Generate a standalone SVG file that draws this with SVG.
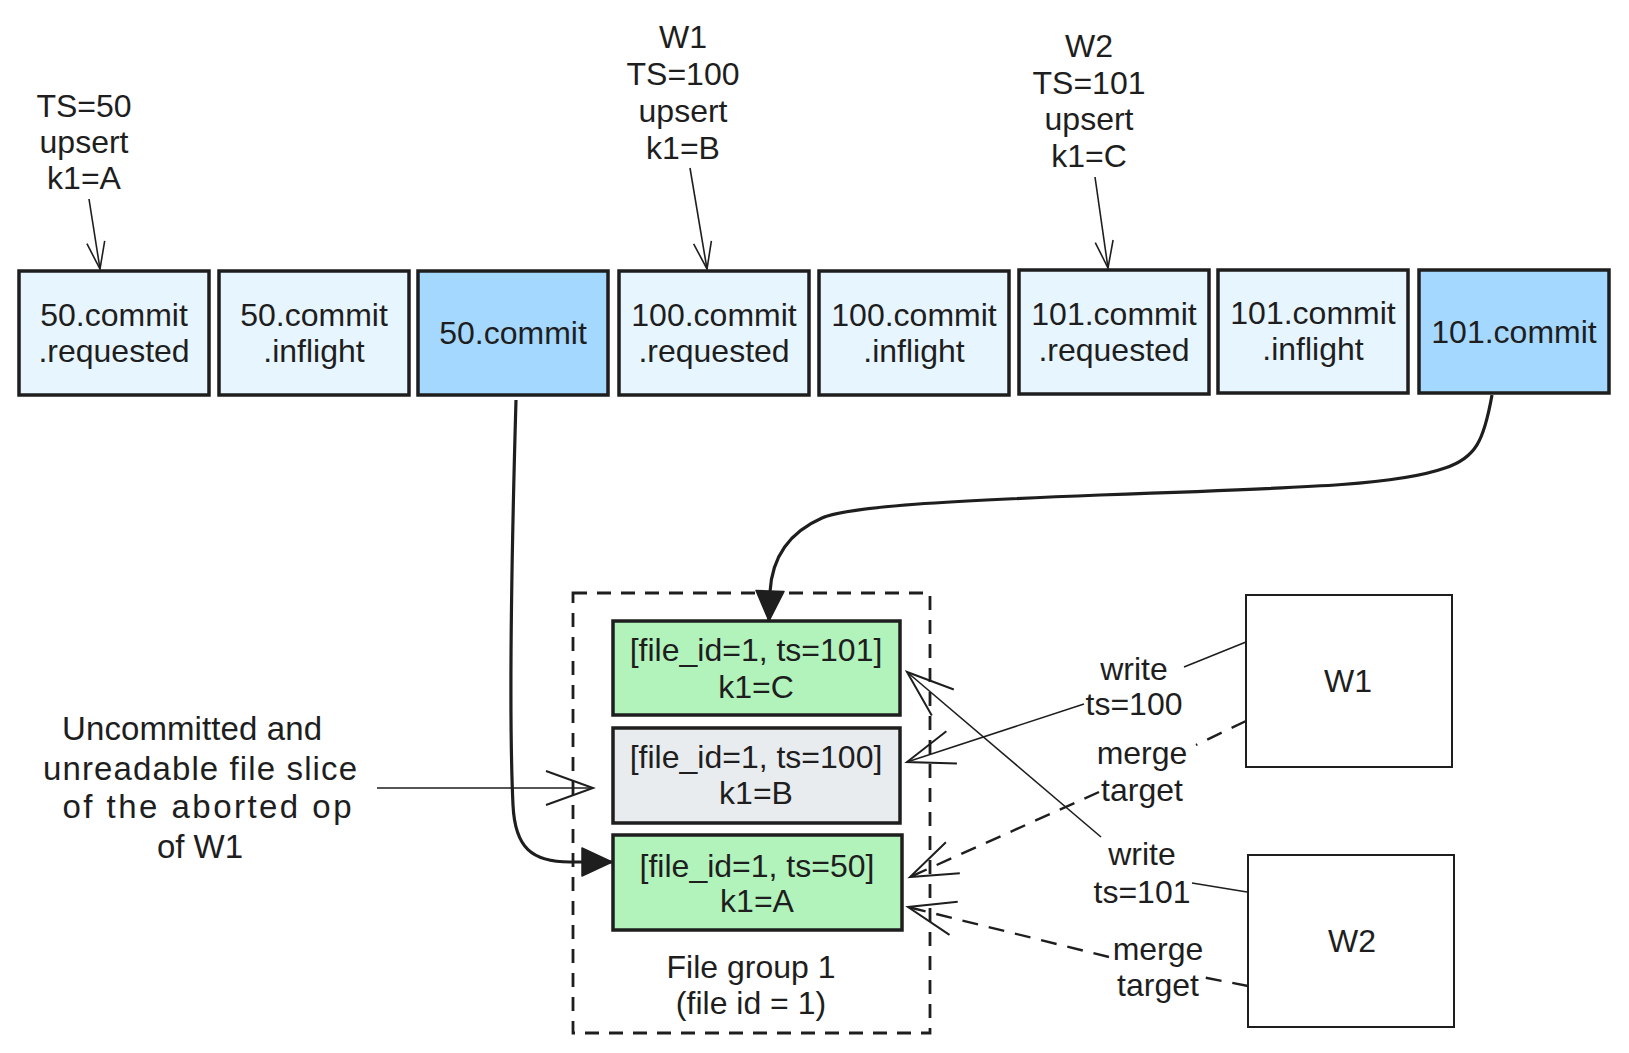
<svg xmlns="http://www.w3.org/2000/svg" width="1629" height="1053" viewBox="0 0 1629 1053">
<style>
.t{font-family:"Liberation Sans",Arial,sans-serif;font-size:32px;fill:#1e1e1e;text-anchor:middle}
.hand{font-family:"Liberation Sans",Arial,sans-serif;font-size:33px;fill:#1e1e1e;text-anchor:middle}
.tl{fill:#e7f5ff;stroke:#1e1e1e;stroke-width:3.5}
.td{fill:#a5d8ff;stroke:#1e1e1e;stroke-width:3.5}
.green{fill:#b2f2bb;stroke:#1e1e1e;stroke-width:3.5}
.gray{fill:#e9ecef;stroke:#1e1e1e;stroke-width:3.5}
.wk{fill:#ffffff;stroke:#1e1e1e;stroke-width:2}
.grp{fill:none;stroke:#1e1e1e;stroke-width:2.8;stroke-dasharray:14 10}
.thin{fill:none;stroke:#1e1e1e;stroke-width:1.6}
.dash{fill:none;stroke:#1e1e1e;stroke-width:2.4;stroke-dasharray:16 11}
.thick{fill:none;stroke:#1e1e1e;stroke-width:3.2}
</style>
<defs>
<marker id="openS" markerUnits="userSpaceOnUse" viewBox="-40 -20 50 40" markerWidth="50" markerHeight="40" refX="0" refY="0" orient="auto">
<path d="M-27,-9 L0,0 L-27,9" fill="none" stroke="#1e1e1e" stroke-width="1.6"/>
</marker>
<marker id="openL" markerUnits="userSpaceOnUse" viewBox="-60 -30 70 60" markerWidth="70" markerHeight="60" refX="0" refY="0" orient="auto">
<path d="M-47,-17 L0,0 L-47,17" fill="none" stroke="#1e1e1e" stroke-width="2"/>
</marker>
<marker id="fill" markerUnits="userSpaceOnUse" viewBox="-40 -20 50 40" markerWidth="50" markerHeight="40" refX="0" refY="0" orient="auto">
<path d="M-30,-14 L0,0 L-30,14 Z" fill="#1e1e1e" stroke="#1e1e1e" stroke-width="1.5" stroke-linejoin="round"/>
</marker>
</defs>
<rect width="1629" height="1053" fill="#ffffff"/>

<g id="label-ts50">
<text class="t" x="84" y="117">TS=50</text>
<text class="t" x="84" y="153">upsert</text>
<text class="t" x="84" y="189">k1=A</text>
</g>
<g id="label-w1">
<text class="t" x="683" y="48">W1</text>
<text class="t" x="683" y="85">TS=100</text>
<text class="t" x="683" y="122">upsert</text>
<text class="t" x="683" y="159">k1=B</text>
</g>
<g id="label-w2">
<text class="t" x="1089" y="57">W2</text>
<text class="t" x="1089" y="94">TS=101</text>
<text class="t" x="1089" y="130">upsert</text>
<text class="t" x="1089" y="167">k1=C</text>
</g>

<g id="n50req"><rect class="tl" x="19" y="271" width="190" height="124"/><text class="t" x="114" y="326">50.commit</text><text class="t" x="114" y="362">.requested</text></g>
<g id="n50inf"><rect class="tl" x="219" y="271" width="190" height="124"/><text class="t" x="314" y="326">50.commit</text><text class="t" x="314" y="362">.inflight</text></g>
<g id="n50com"><rect class="td" x="418" y="271" width="190" height="124"/><text class="t" x="513" y="344">50.commit</text></g>
<g id="n100req"><rect class="tl" x="619" y="271" width="190" height="124"/><text class="t" x="714" y="326">100.commit</text><text class="t" x="714" y="362">.requested</text></g>
<g id="n100inf"><rect class="tl" x="819" y="271" width="190" height="124"/><text class="t" x="914" y="326">100.commit</text><text class="t" x="914" y="362">.inflight</text></g>
<g id="n101req"><rect class="tl" x="1019" y="270" width="190" height="124"/><text class="t" x="1114" y="325">101.commit</text><text class="t" x="1114" y="361">.requested</text></g>
<g id="n101inf"><rect class="tl" x="1218" y="270" width="190" height="123"/><text class="t" x="1313" y="324">101.commit</text><text class="t" x="1313" y="360">.inflight</text></g>
<g id="n101com"><rect class="td" x="1419" y="270" width="190" height="123"/><text class="t" x="1514" y="343">101.commit</text></g>

<g id="filegroup">
<rect class="grp" x="573" y="593" width="357" height="440"/>
<text class="t" x="751" y="978">File group 1</text>
<text class="t" x="751" y="1014">(file id = 1)</text>
</g>
<g id="slice101"><rect class="green" x="613" y="621" width="287" height="94"/><text class="t" x="756" y="661">[file_id=1, ts=101]</text><text class="t" x="756" y="698">k1=C</text></g>
<g id="slice100"><rect class="gray" x="613" y="728" width="287" height="95"/><text class="t" x="756" y="768">[file_id=1, ts=100]</text><text class="t" x="756" y="804">k1=B</text></g>
<g id="slice50"><rect class="green" x="613" y="835" width="289" height="95"/><text class="t" x="757" y="877">[file_id=1, ts=50]</text><text class="t" x="757" y="912">k1=A</text></g>

<g id="w1"><rect class="wk" x="1246" y="595" width="206" height="172"/><text class="t" x="1348" y="692">W1</text></g>
<g id="w2"><rect class="wk" x="1248" y="855" width="206" height="172"/><text class="t" x="1352" y="952">W2</text></g>

<g id="note">
<text class="hand" x="192" y="740" textLength="260" lengthAdjust="spacing">Uncommitted and</text>
<text class="hand" x="200" y="780" textLength="314" lengthAdjust="spacing">unreadable file slice</text>
<text class="hand" x="207" y="818" textLength="289" lengthAdjust="spacing">of the aborted op</text>
<text class="hand" x="200" y="858">of W1</text>
</g>

<g id="connectors">
<path class="thin" d="M89,199 L100,269" marker-end="url(#openS)"/>
<path class="thin" d="M690,168 L707,269" marker-end="url(#openS)"/>
<path class="thin" d="M1095,177 L1108,268" marker-end="url(#openS)"/>

<path class="thick" d="M516,400 C512,540 509,720 513,805 C515,848 532,862 570,862 L612,862" marker-end="url(#fill)"/>
<path class="thick" d="M1492,395 C1484,440 1476,458 1445,468 C1400,484 1330,487 1100,495 C950,501 850,506 822,518 C790,532 772,556 770,592 L769,621" marker-end="url(#fill)"/>

<path class="thin" d="M377,788 L593,788" marker-end="url(#openL)"/>

<path class="thin" d="M1246,642 L1184,667"/>
<path class="thin" d="M1084,704 L907,762" marker-end="url(#openL)"/>
<text class="t" x="1134" y="680">write</text>
<text class="t" x="1134" y="715">ts=100</text>

<path class="dash" d="M1246,721 L1196,745"/>
<path class="dash" d="M1099,792 L910,877" marker-end="url(#openL)"/>
<text class="t" x="1142" y="764">merge</text>
<text class="t" x="1142" y="801">target</text>

<path class="thin" d="M1247,892 L1192,883"/>
<path class="thin" d="M1101,837 L907,672" marker-end="url(#openL)"/>
<text class="t" x="1142" y="865">write</text>
<text class="t" x="1142" y="903">ts=101</text>

<path class="dash" d="M1248,986 L1202,977"/>
<path class="dash" d="M1109,957 L908,907" marker-end="url(#openL)"/>
<text class="t" x="1158" y="960">merge</text>
<text class="t" x="1158" y="996">target</text>
</g>
</svg>
